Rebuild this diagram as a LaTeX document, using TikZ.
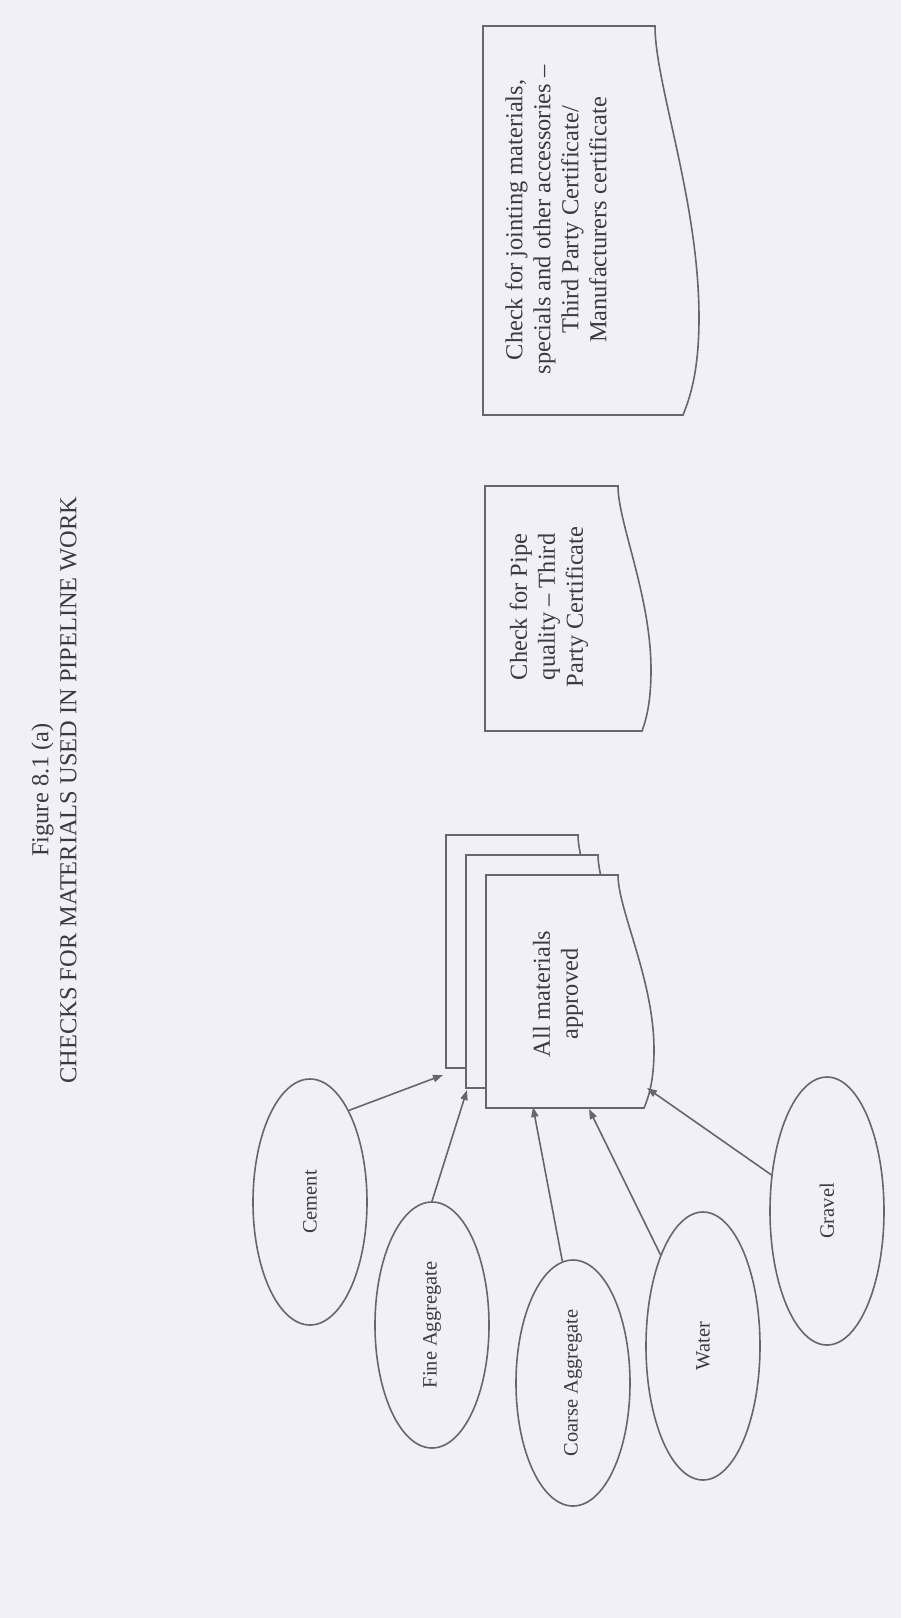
\documentclass[tikz,border=0pt]{standalone}
\usepackage{fontspec}
\setmainfont{Liberation Serif}
\usepackage{xcolor}
\definecolor{scanPaper}{HTML}{F1F0F8}
\definecolor{scanLine}{HTML}{66666E}
\definecolor{scanInk}{HTML}{3A3A42}
\usetikzlibrary{arrows.meta,shapes.geometric}

% document outline, page turned: left x, top y, bottom y, depth right, depth max, depth left
\newcommand{\docpath}[6]{%
  (#1,#3) -- (#1,#2) -- ({#1+#4},#2)
  .. controls ({#1+#4},{#2+0.15*(#3-#2)}) and ({#1+#5},{#2+0.45*(#3-#2)}) .. ({#1+#5},{#2+0.75*(#3-#2)})
  .. controls ({#1+#5},{#2+0.88*(#3-#2)}) and ({#1+0.5*#5+0.5*#6},{#2+0.95*(#3-#2)}) .. ({#1+#6},#3) -- cycle}

\begin{document}
\begin{tikzpicture}[x=0.5pt, y=-0.5pt,
  material/.style={ellipse, draw=scanLine, line width=0.8pt, rotate=90, minimum width=123pt,
    minimum height=57pt, inner sep=0pt, font=\fontsize{10.2}{12}\selectfont, text=scanInk},
  doctext/.style={rotate=90, align=center, inner sep=0pt, font=\fontsize{12.2}{14}\selectfont, text=scanInk},
  docline/.style={draw=scanLine, fill=scanPaper, line width=0.8pt},
  feed/.style={draw=scanLine, line width=0.8pt, -{Triangle[length=5pt,width=3.6pt]}}]
  \fill[scanPaper] (0,0) rectangle (901,1618);

  \node[doctext] (title) at (54,790) {Figure 8.1 (a)\\CHECKS FOR MATERIALS USED IN PIPELINE WORK};

  % stacked documents
  \draw[docline] \docpath{446}{835}{1068}{132}{168}{158};
  \draw[docline] \docpath{466}{855}{1088}{132}{168}{158};
  \draw[docline] \docpath{486}{875}{1108}{132}{168}{158};
  \node[doctext] (approved) at (558,994) {All materials\\approved};

  \draw[docline] \docpath{485}{486}{731}{133}{166}{157};
  \node[doctext] (pipe) at (549,607) {Check for Pipe\\quality – Third\\Party Certificate};

  \draw[docline] \docpath{483}{26}{415}{172}{216}{200};
  \node[doctext] (joint) at (556,220) {Check for jointing materials,\\specials and other accessories –\\Third Party Certificate/\\Manufacturers certificate};

  % materials
  \node[material] (cement) at (310,1202) {Cement};
  \node[material] (fine) at (432,1325) {Fine Aggregate};
  \node[material] (coarse) at (573,1383) {Coarse Aggregate};
  \node[material, minimum width=134pt] (water) at (703,1346) {Water};
  \node[material, minimum width=134pt] (gravel) at (827,1211) {Gravel};

  \coordinate (cementIn) at (443,1075);
  \coordinate (fineIn) at (467,1090);
  \coordinate (coarseIn) at (533,1107);
  \coordinate (waterIn) at (589,1109);
  \coordinate (gravelIn) at (647,1088);

  \draw[feed] (cement.-23) -- (cementIn);
  \draw[feed] (fine.east) -- (fineIn);
  \draw[feed] (coarse.5) -- (coarseIn);
  \draw[feed] (water.25) -- (waterIn);
  \draw[feed] (gravel.57) -- (gravelIn);
\end{tikzpicture}
\end{document}
